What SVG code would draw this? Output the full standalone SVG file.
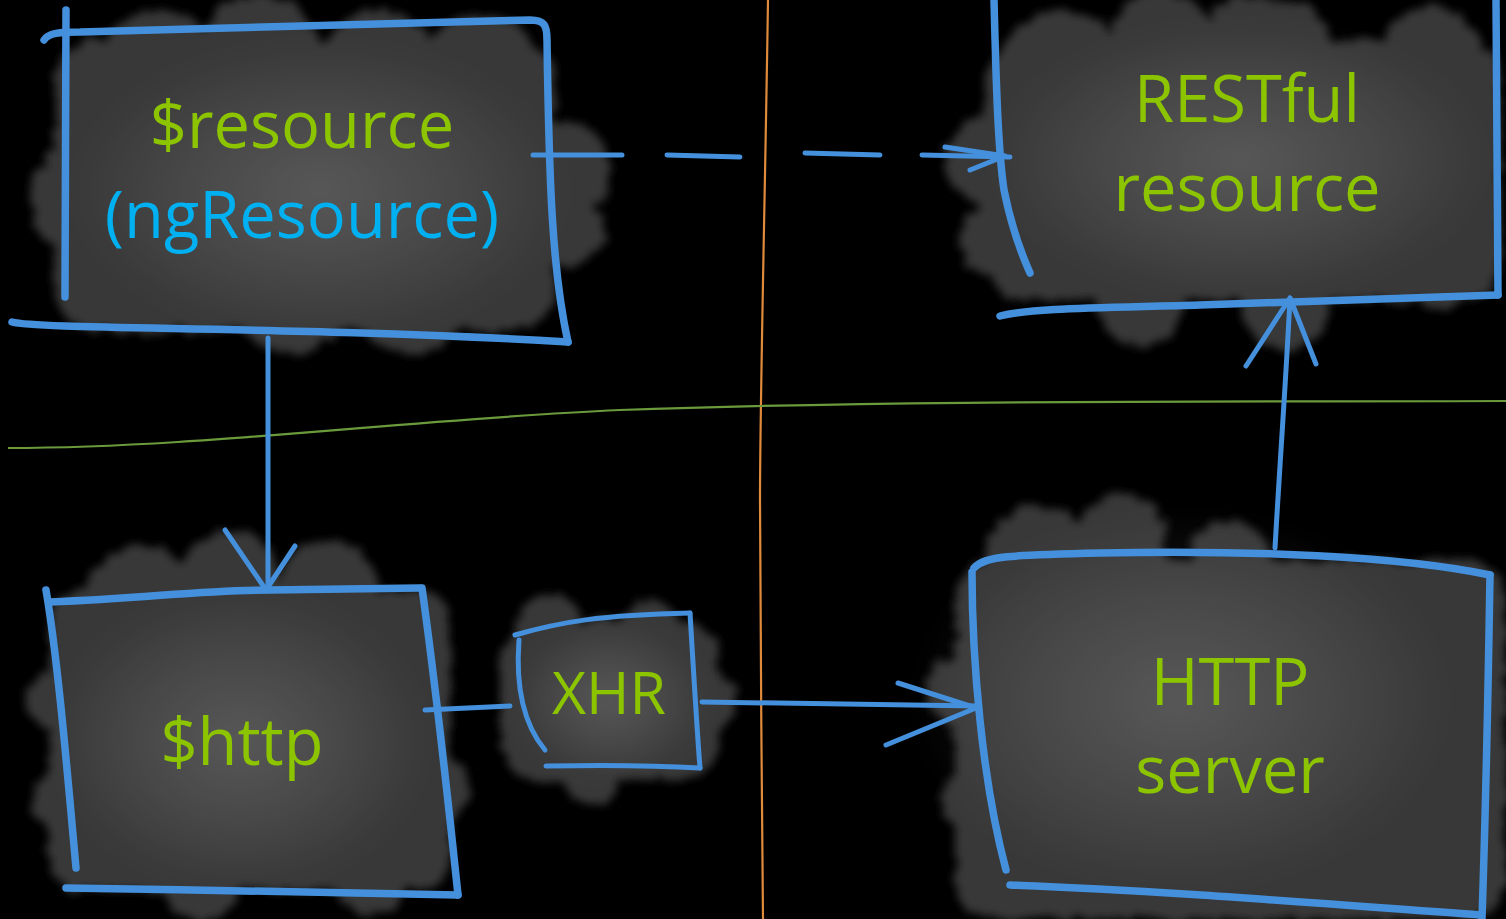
<svg xmlns="http://www.w3.org/2000/svg" width="1506" height="919" viewBox="0 0 1506 919">
  <style>
    .pen { fill: none; stroke: #4590dc; stroke-linecap: round; stroke-linejoin: round; }
    .edge { stroke-width: 7.5; }
    .thin { stroke-width: 5; }
    .cloud { fill: #383838; filter: url(#rough); }
    .glow { fill: url(#shine); filter: url(#soft); }
    .label { font-family: "Open Sans", "Noto Sans", sans-serif; font-size: 65px; text-anchor: middle; fill: #8cc400; }
    .alt { fill: #00b0f0; }
  </style>
  <defs>
    <filter id="rough" x="-10%" y="-10%" width="120%" height="120%">
      <feTurbulence type="fractalNoise" baseFrequency="0.07" numOctaves="3" seed="4" result="n"/>
      <feDisplacementMap in="SourceGraphic" in2="n" scale="16" xChannelSelector="R" yChannelSelector="G" result="d"/>
      <feGaussianBlur in="d" stdDeviation="4.5"/>
    </filter>
    <filter id="soft" x="-20%" y="-20%" width="140%" height="140%">
      <feGaussianBlur stdDeviation="10"/>
    </filter>
    <radialGradient id="shine" cx="50%" cy="50%" r="50%">
      <stop offset="0" stop-color="#ffffff" stop-opacity="0.16"/>
      <stop offset="0.6" stop-color="#ffffff" stop-opacity="0.07"/>
      <stop offset="1" stop-color="#ffffff" stop-opacity="0"/>
    </radialGradient>
  </defs>

  <rect width="1506" height="919" fill="#000"/>

  <!-- background clouds -->
  <g id="clouds">
    <g class="cloud">
      <rect x="55" y="40" width="500" height="290" rx="40"/>
      <circle cx="160" cy="75" r="65"/><circle cx="260" cy="55" r="60"/><circle cx="380" cy="70" r="60"/>
      <circle cx="480" cy="75" r="60"/><circle cx="560" cy="170" r="50"/><circle cx="570" cy="230" r="35"/>
      <circle cx="90" cy="200" r="60"/><circle cx="290" cy="300" r="55"/><circle cx="410" cy="300" r="55"/>
      <circle cx="130" cy="290" r="45"/>
    </g>
    <ellipse class="glow" cx="320" cy="190" rx="250" ry="150"/>

    <g class="cloud">
      <rect x="985" y="40" width="515" height="260" rx="40"/>
      <circle cx="1060" cy="70" r="60"/><circle cx="1160" cy="40" r="50"/><circle cx="1250" cy="45" r="50"/>
      <circle cx="1290" cy="45" r="42"/><circle cx="1430" cy="55" r="50"/><circle cx="990" cy="160" r="45"/>
      <circle cx="1000" cy="240" r="40"/><circle cx="1140" cy="300" r="45"/><circle cx="1285" cy="305" r="45"/>
      <circle cx="1440" cy="270" r="40"/>
    </g>
    <ellipse class="glow" cx="1240" cy="160" rx="250" ry="140"/>

    <g class="cloud">
      <rect x="50" y="590" width="400" height="300" rx="30"/>
      <circle cx="140" cy="600" r="55"/><circle cx="230" cy="580" r="50"/><circle cx="330" cy="590" r="50"/>
      <circle cx="400" cy="640" r="40"/><circle cx="55" cy="700" r="30"/><circle cx="60" cy="800" r="30"/>
      <circle cx="440" cy="790" r="30"/><circle cx="200" cy="880" r="40"/><circle cx="370" cy="880" r="35"/>
    </g>
    <ellipse class="glow" cx="240" cy="740" rx="190" ry="150"/>

    <g class="cloud">
      <rect x="500" y="620" width="220" height="160" rx="40"/>
      <circle cx="550" cy="630" r="35"/><circle cx="650" cy="630" r="30"/><circle cx="710" cy="700" r="28"/>
      <circle cx="590" cy="775" r="30"/>
    </g>
    <ellipse class="glow" cx="610" cy="700" rx="100" ry="80"/>

    <g class="cloud">
      <rect x="955" y="560" width="551" height="359" rx="40"/>
      <circle cx="1040" cy="560" r="55"/><circle cx="1120" cy="540" r="45"/><circle cx="1230" cy="560" r="40"/>
      <circle cx="960" cy="690" r="35"/><circle cx="975" cy="800" r="35"/><circle cx="1460" cy="620" r="40"/>
      <circle cx="1420" cy="700" r="40"/>
    </g>
    <ellipse class="glow" cx="1180" cy="700" rx="270" ry="190"/>
  </g>

  <!-- boundary lines -->
  <g id="boundaries" fill="none" stroke-width="2.2">
    <path d="M768 0 C765 200 760 400 760 500 S762 800 763 919" stroke="#e08a3c"/>
    <path d="M8 448 C200 448 400 420 620 410 C900 400 1200 402 1506 401" stroke="#6a9a3c"/>
  </g>

  <!-- connectors -->
  <g id="connectors" class="pen">
    <g class="thin">
      <path d="M533 155 L622 155 M667 155 L740 157 M805 153 L880 155 M922 155 L1010 157"/>
      <path d="M945 147 L1005 156 L970 170"/>
      <path d="M268 338 L268 590"/>
      <path d="M225 530 L266 590 L295 546"/>
      <path d="M1275 548 C1280 460 1286 380 1290 298"/>
      <path d="M1246 366 L1290 298 L1316 364"/>
      <path d="M425 710 L510 706"/>
      <path d="M702 702 L978 706"/>
      <path d="M898 683 L976 708 L886 745"/>
    </g>
  </g>

  <!-- nodes -->
  <g id="node-resource">
    <g class="pen edge">
      <path d="M44 40 C48 33 60 32 80 32 L530 20 C545 20 547 26 547 40 C549 180 552 270 568 342"/>
      <path d="M66 10 L65 297"/>
      <path d="M12 322 C40 330 300 326 568 342"/>
    </g>
    <text class="label" x="302" y="148">$resource</text>
    <text class="label alt" x="302" y="238">(ngResource)</text>
  </g>

  <g id="node-restful">
    <g class="pen edge">
      <path d="M994 0 C996 80 998 150 1004 190 C1012 230 1022 255 1030 273"/>
      <path d="M1496 0 C1496 100 1498 200 1498 295"/>
      <path d="M1000 316 C1030 308 1100 308 1200 305 L1498 295"/>
    </g>
    <text class="label" x="1247" y="122">RESTful</text>
    <text class="label" x="1247" y="211">resource</text>
  </g>

  <g id="node-http">
    <g class="pen edge">
      <path d="M50 602 C150 598 200 590 270 590 L420 588"/>
      <path d="M46 590 C58 660 68 780 76 868"/>
      <path d="M422 588 C432 660 446 780 458 895"/>
      <path d="M66 888 C200 890 350 892 458 895"/>
    </g>
    <text class="label" x="242" y="765">$http</text>
  </g>

  <g id="node-xhr">
    <g class="pen thin">
      <path d="M515 635 C560 622 600 615 690 613"/>
      <path d="M519 640 C516 680 520 720 545 750"/>
      <path d="M690 613 C694 680 697 730 700 768"/>
      <path d="M546 766 C600 765 650 765 700 768"/>
    </g>
    <text class="label" x="609" y="714" style="font-size:59px">XHR</text>
  </g>

  <g id="node-server">
    <g class="pen edge">
      <path d="M974 568 C985 556 1010 555 1100 553 C1250 550 1400 556 1490 575"/>
      <path d="M972 572 C972 660 982 780 1006 870"/>
      <path d="M1490 575 C1488 700 1486 800 1482 919"/>
      <path d="M1010 885 C1150 890 1300 902 1480 915"/>
    </g>
    <text class="label" x="1230" y="705">HTTP</text>
    <text class="label" x="1230" y="793">server</text>
  </g>
</svg>
